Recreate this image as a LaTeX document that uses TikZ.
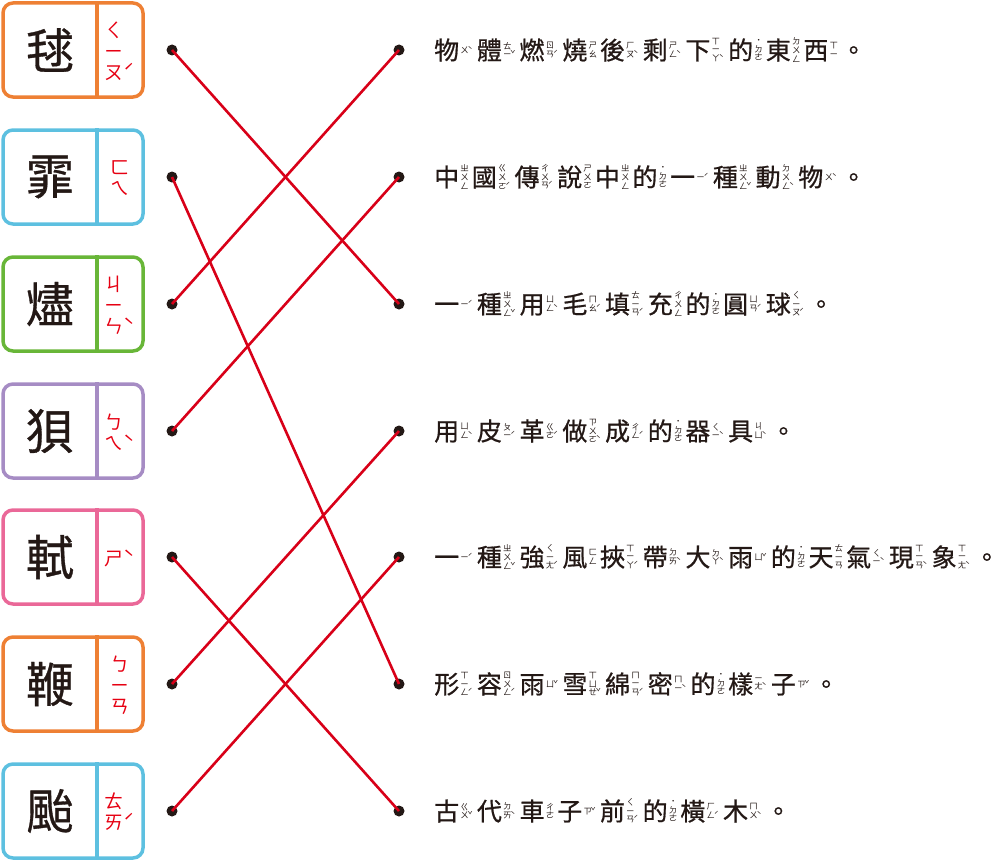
\documentclass[tikz,border=0pt]{standalone}
\usepackage{fontspec}
\newfontfamily\cjk{Noto Sans CJK TC}
\newfontfamily\cjkheavy[FakeBold=0.7]{Noto Sans CJK TC}
\usepackage{xcolor}
\definecolor{cardorange}{RGB}{238,128,52}
\definecolor{cardblue}{RGB}{93,192,224}
\definecolor{cardgreen}{RGB}{104,182,56}
\definecolor{cardpurple}{RGB}{166,140,196}
\definecolor{cardpink}{RGB}{234,104,152}
\definecolor{zyred}{RGB}{230,0,18}
\definecolor{matchred}{RGB}{216,0,24}
\definecolor{inkblack}{RGB}{35,24,21}
\usepackage{tikz}
\usetikzlibrary{positioning}
% gap before the tone mark
\newcommand{\zygap}{-0.15em}
% zhuyin column: #1 line pitch, #2 symbols, #3 tone
\newcommand{\zhuyin}[3]{\hbox{\vbox{\baselineskip=#1\lineskiplimit=-\maxdimen\let\\\cr
  \halign{\hfil##\hfil\cr#2\crcr}}\kern\zygap\hbox{#3}}}
% one character with its small zhuyin
\newcommand{\zy}[3]{#1\kern1.2pt\raisebox{\dimexpr0.38em-0.5\height+0.5\depth\relax}{\cjk\fontsize{8.5}{9}\selectfont\zhuyin{8.6pt}{#2}{#3}}\kern4.2pt}

\begin{document}
\begin{tikzpicture}[x=1pt, y=-1pt,
  card/.style={draw, line width=3.5pt, rounded corners=10pt, minimum width=140pt, minimum height=94pt, inner sep=0pt},
  divider/.style={line width=3.5pt},
  bigchar/.style={inner sep=0pt, font=\cjkheavy\fontsize{48}{50}\selectfont, text=inkblack},
  bopo/.style={inner sep=0pt, font=\cjk\fontsize{19}{21}\selectfont, text=zyred, execute at begin node={\renewcommand{\zygap}{0.02em}}},
  sentence/.style={anchor=west, inner sep=0pt, font=\cjkheavy\fontsize{25}{28}\selectfont, text=inkblack},
  bead/.style={circle, fill=inkblack, inner sep=0pt, minimum size=11pt},
  match/.style={line width=2.6pt, matchred}]
  \useasboundingbox (0,0) rectangle (1000,859);
  % Cards
  \node[card, draw=cardorange] (b1) at (73,50) {};
  \node[card, draw=cardblue] (b2) at (73,177) {};
  \node[card, draw=cardgreen] (b3) at (73,304) {};
  \node[card, draw=cardpurple] (b4) at (73,431) {};
  \node[card, draw=cardpink] (b5) at (73,557) {};
  \node[card, draw=cardorange] (b6) at (73,684) {};
  \node[card, draw=cardblue] (b7) at (73,811) {};
  \draw[divider, cardorange] ([xshift=24pt]b1.north) -- ([xshift=24pt]b1.south);
  \draw[divider, cardblue] ([xshift=24pt]b2.north) -- ([xshift=24pt]b2.south);
  \draw[divider, cardgreen] ([xshift=24pt]b3.north) -- ([xshift=24pt]b3.south);
  \draw[divider, cardpurple] ([xshift=24pt]b4.north) -- ([xshift=24pt]b4.south);
  \draw[divider, cardpink] ([xshift=24pt]b5.north) -- ([xshift=24pt]b5.south);
  \draw[divider, cardorange] ([xshift=24pt]b6.north) -- ([xshift=24pt]b6.south);
  \draw[divider, cardblue] ([xshift=24pt]b7.north) -- ([xshift=24pt]b7.south);
  % Characters and their zhuyin
  \node[bigchar] (c1) at (50,50) {毬};
  \node[bigchar] (c2) at (50,177) {霏};
  \node[bigchar] (c3) at (50,304) {燼};
  \node[bigchar] (c4) at (50,431) {狽};
  \node[bigchar] (c5) at (50,557) {軾};
  \node[bigchar] (c6) at (50,684) {鞭};
  \node[bigchar] (c7) at (50,811) {颱};
  \node[bopo] (z1) at (120,51) {\zhuyin{21pt}{ㄑ\\ㄧ\\ㄡ}{ˊ}};
  \node[bopo] (z2) at (120,178) {\zhuyin{21pt}{ㄈ\\ㄟ}{}};
  \node[bopo] (z3) at (120,305) {\zhuyin{21pt}{ㄐ\\ㄧ\\ㄣ}{ˋ}};
  \node[bopo] (z4) at (120,432) {\zhuyin{21pt}{ㄅ\\ㄟ}{ˋ}};
  \node[bopo] (z5) at (120,558) {\zhuyin{21pt}{ㄕ}{ˋ}};
  \node[bopo] (z6) at (120,685) {\zhuyin{21pt}{ㄅ\\ㄧ\\ㄢ}{}};
  \node[bopo] (z7) at (120,812) {\zhuyin{21pt}{ㄊ\\ㄞ}{ˊ}};
  % Meanings
  \node[sentence] (s1) at (434,50) {\zy{物}{ㄨ}{ˋ}\zy{體}{ㄊ\\ㄧ}{ˇ}\zy{燃}{ㄖ\\ㄢ}{ˊ}\zy{燒}{ㄕ\\ㄠ}{}\zy{後}{ㄏ\\ㄡ}{ˋ}%
    \zy{剩}{ㄕ\\ㄥ}{ˋ}\zy{下}{ㄒ\\ㄧ\\ㄚ}{ˋ}\zy{的}{˙\\ㄉ\\ㄜ}{}\zy{東}{ㄉ\\ㄨ\\ㄥ}{}\zy{西}{ㄒ\\ㄧ}{}。};
  \node[sentence] (s2) at (434,177) {\zy{中}{ㄓ\\ㄨ\\ㄥ}{}\zy{國}{ㄍ\\ㄨ\\ㄛ}{ˊ}\zy{傳}{ㄔ\\ㄨ\\ㄢ}{ˊ}\zy{說}{ㄕ\\ㄨ\\ㄛ}{}\zy{中}{ㄓ\\ㄨ\\ㄥ}{}%
    \zy{的}{˙\\ㄉ\\ㄜ}{}\zy{一}{ㄧ}{ˊ}\zy{種}{ㄓ\\ㄨ\\ㄥ}{ˇ}\zy{動}{ㄉ\\ㄨ\\ㄥ}{ˋ}\zy{物}{ㄨ}{ˋ}。};
  \node[sentence] (s3) at (434,304) {\zy{一}{ㄧ}{ˊ}\zy{種}{ㄓ\\ㄨ\\ㄥ}{ˇ}\zy{用}{ㄩ\\ㄥ}{ˋ}\zy{毛}{ㄇ\\ㄠ}{ˊ}\zy{填}{ㄊ\\ㄧ\\ㄢ}{ˊ}%
    \zy{充}{ㄔ\\ㄨ\\ㄥ}{}\zy{的}{˙\\ㄉ\\ㄜ}{}\zy{圓}{ㄩ\\ㄢ}{ˊ}\zy{球}{ㄑ\\ㄧ\\ㄡ}{ˊ}。};
  \node[sentence] (s4) at (434,431) {\zy{用}{ㄩ\\ㄥ}{ˋ}\zy{皮}{ㄆ\\ㄧ}{ˊ}\zy{革}{ㄍ\\ㄜ}{ˊ}\zy{做}{ㄗ\\ㄨ\\ㄛ}{ˋ}\zy{成}{ㄔ\\ㄥ}{ˊ}%
    \zy{的}{˙\\ㄉ\\ㄜ}{}\zy{器}{ㄑ\\ㄧ}{ˋ}\zy{具}{ㄐ\\ㄩ}{ˋ}。};
  \node[sentence] (s5) at (434,557) {\zy{一}{ㄧ}{ˊ}\zy{種}{ㄓ\\ㄨ\\ㄥ}{ˇ}\zy{強}{ㄑ\\ㄧ\\ㄤ}{ˊ}\zy{風}{ㄈ\\ㄥ}{}\zy{挾}{ㄒ\\ㄧ\\ㄚ}{ˊ}%
    \zy{帶}{ㄉ\\ㄞ}{ˋ}\zy{大}{ㄉ\\ㄚ}{ˋ}\zy{雨}{ㄩ}{ˇ}\zy{的}{˙\\ㄉ\\ㄜ}{}\zy{天}{ㄊ\\ㄧ\\ㄢ}{}%
    \zy{氣}{ㄑ\\ㄧ}{ˋ}\zy{現}{ㄒ\\ㄧ\\ㄢ}{ˋ}\zy{象}{ㄒ\\ㄧ\\ㄤ}{ˋ}。};
  \node[sentence] (s6) at (434,684) {\zy{形}{ㄒ\\ㄧ\\ㄥ}{ˊ}\zy{容}{ㄖ\\ㄨ\\ㄥ}{ˊ}\zy{雨}{ㄩ}{ˇ}\zy{雪}{ㄒ\\ㄩ\\ㄝ}{ˇ}\zy{綿}{ㄇ\\ㄧ\\ㄢ}{ˊ}%
    \zy{密}{ㄇ\\ㄧ}{ˋ}\zy{的}{˙\\ㄉ\\ㄜ}{}\zy{樣}{ㄧ\\ㄤ}{ˋ}\zy{子}{ㄗ}{ˇ}。};
  \node[sentence] (s7) at (434,811) {\zy{古}{ㄍ\\ㄨ}{ˇ}\zy{代}{ㄉ\\ㄞ}{ˋ}\zy{車}{ㄔ\\ㄜ}{}\zy{子}{ㄗ}{ˇ}\zy{前}{ㄑ\\ㄧ\\ㄢ}{ˊ}%
    \zy{的}{˙\\ㄉ\\ㄜ}{}\zy{橫}{ㄏ\\ㄥ}{ˊ}\zy{木}{ㄇ\\ㄨ}{ˋ}。};
  % Dots
  \node[bead] (lp1) at (172,50) {};
  \node[bead] (lp2) at (172,177) {};
  \node[bead] (lp3) at (172,304) {};
  \node[bead] (lp4) at (172,431) {};
  \node[bead] (lp5) at (172,557) {};
  \node[bead] (lp6) at (172,684) {};
  \node[bead] (lp7) at (172,811) {};
  \node[bead] (rp1) at (399,50) {};
  \node[bead] (rp2) at (399,177) {};
  \node[bead] (rp3) at (399,304) {};
  \node[bead] (rp4) at (399,431) {};
  \node[bead] (rp5) at (399,557) {};
  \node[bead] (rp6) at (399,684) {};
  \node[bead] (rp7) at (399,811) {};
  % Matches
  \draw[match] (lp1.center) -- (rp3.center);
  \draw[match] (lp2.center) -- (rp6.center);
  \draw[match] (lp3.center) -- (rp1.center);
  \draw[match] (lp4.center) -- (rp2.center);
  \draw[match] (lp5.center) -- (rp7.center);
  \draw[match] (lp6.center) -- (rp4.center);
  \draw[match] (lp7.center) -- (rp5.center);
\end{tikzpicture}
\end{document}
